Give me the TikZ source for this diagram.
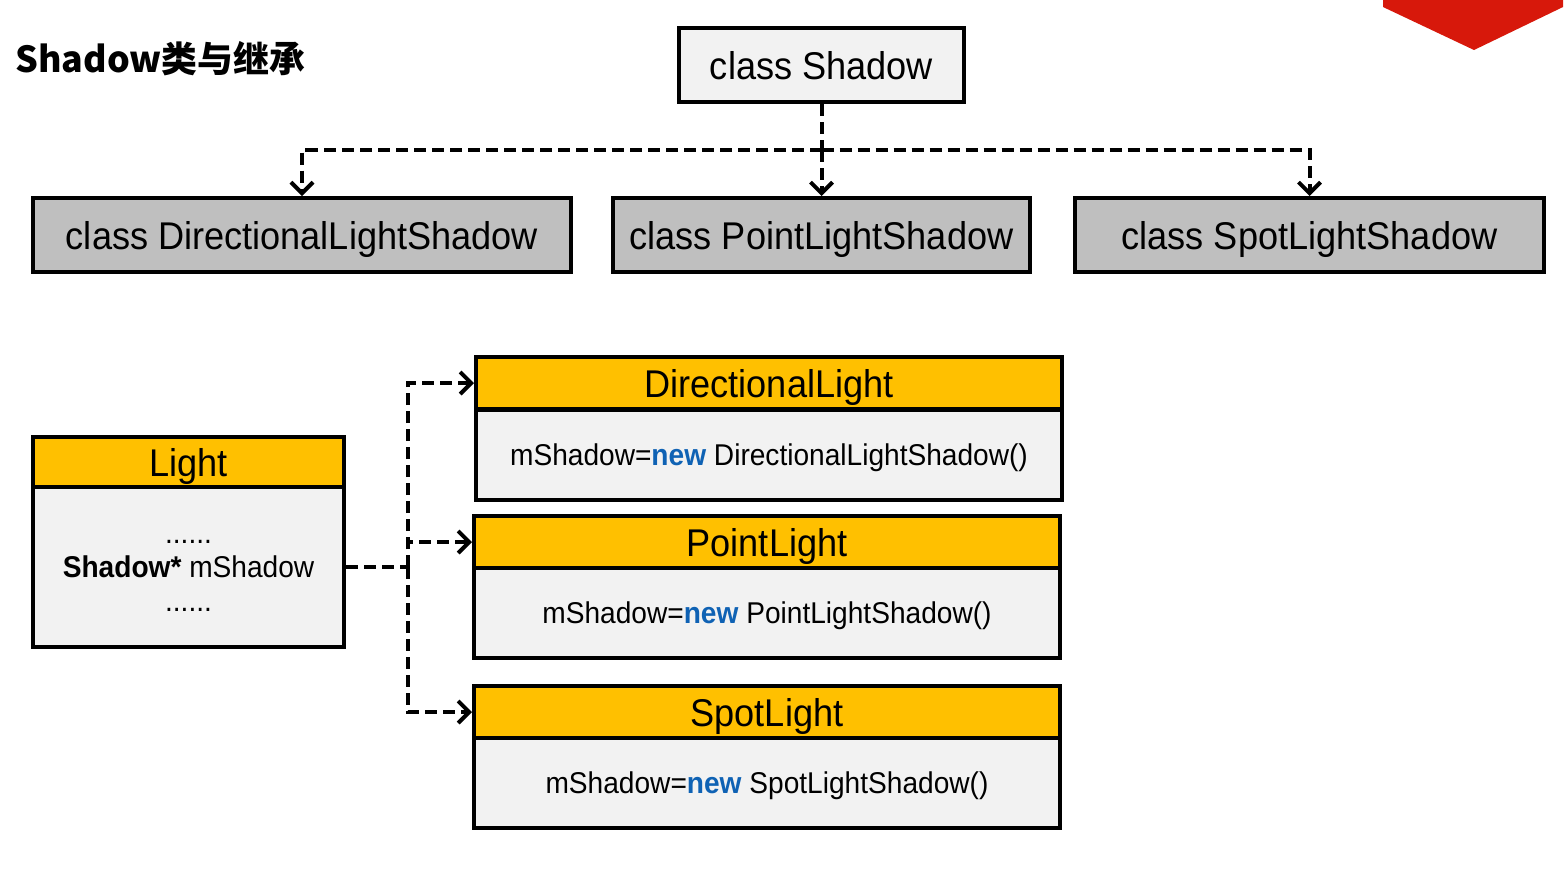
\documentclass[tikz,border=0pt]{standalone}
\usepackage{fontspec}
\setmainfont{Liberation Sans}[FakeStretch=0.935]
\newfontfamily\cjk{Noto Sans CJK SC}
\usetikzlibrary{arrows.meta}
\definecolor{hdyellow}{HTML}{FFC000}
\definecolor{boxgray}{HTML}{F2F2F2}
\definecolor{subgray}{HTML}{BFBFBF}
\definecolor{kwblue}{HTML}{0F62B4}
\definecolor{slidered}{HTML}{D7180B}
\tikzset{
  base/.style={draw, line width=0.8mm, inner sep=0pt, text depth=0pt, font=\fontsize{22pt}{26pt}\selectfont},
  topcls/.style={base, fill=boxgray, minimum height=14.8mm},
  subcls/.style={base, fill=subgray, minimum height=14.8mm},
  head/.style={base, fill=hdyellow, minimum width=117.2mm, minimum height=10.4mm},
  body/.style={base, fill=boxgray, minimum width=117.2mm, minimum height=18mm, font=\fontsize{17.1pt}{21pt}\selectfont},
  link/.style={line width=0.8mm, dash pattern=on 2.4mm off 1.2mm},
  arr/.style={link, -{Straight Barb[length=2.2mm,width=4.4mm]}}
}
\newcommand{\kw}[1]{\textcolor{kwblue}{\textbf{#1}}}
\begin{document}
\begin{tikzpicture}[x=0.2mm,y=-0.2mm]
\useasboundingbox (0,0) rectangle (1567,875);
\fill[slidered] (1383,0) -- (1563,0) -- (1563,7) -- (1474,50) -- (1383,7) -- cycle;
\node[anchor=west, font=\cjk\bfseries\fontsize{20.4pt}{24pt}\selectfont] (title) at (9,59) {Shadow类与继承};

\node[topcls, minimum width=57mm] (shadow) at (821.5,65) {class Shadow};
\node[subcls, minimum width=107.6mm] (dls) at (302,235) {class DirectionalLightShadow};
\node[subcls, minimum width=83.4mm] (pls) at (821.5,235) {class PointLightShadow};
\node[subcls, minimum width=93.8mm] (sls) at (1309.5,235) {class SpotLightShadow};
\coordinate (fork) at (821.5,150);
\draw[link] (shadow) -- (fork);
\draw[arr] (fork) -| (dls.north);
\draw[arr] (fork) -- (pls.north);
\draw[arr] (fork) -| (sls.north);

\node[base, fill=boxgray, minimum width=62.2mm, minimum height=32mm] (lbody) at (188.5,567) {};
\node[align=center, font=\fontsize{17.1pt}{19.5pt}\selectfont] (ltext) at (188.5,576)
  {......\\ \textbf{Shadow*} mShadow\\ ......};
\node[base, fill=hdyellow, minimum width=62.2mm, minimum height=10mm] (lhead) at (188.5,462) {Light};

\node[body] (dlbody) at (769,454.5) {mShadow=\kw{new} DirectionalLightShadow()};
\node[head] (dlhead) at (769,383) {DirectionalLight};
\node[body] (plbody) at (767,613) {mShadow=\kw{new} PointLightShadow()};
\node[head] (plhead) at (767,542) {PointLight};
\node[body] (slbody) at (767,783) {mShadow=\kw{new} SpotLightShadow()};
\node[head] (slhead) at (767,712) {SpotLight};

\coordinate (bus) at (408,567);
\draw[link] (lbody) -- (bus);
\draw[arr] (bus) |- (dlhead.west);
\draw[arr] (bus) |- (plhead.west);
\draw[arr] (bus) |- (slhead.west);
\end{tikzpicture}
\end{document}
